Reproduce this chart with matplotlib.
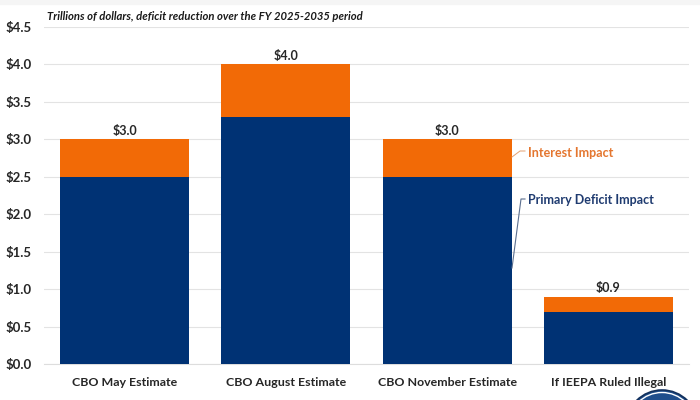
import matplotlib
matplotlib.use("Agg")
import matplotlib.pyplot as plt
from matplotlib.patches import Circle, Rectangle

plt.rcParams['font.family'] = ['Lato', 'Open Sans', 'DejaVu Sans']

categories = ["CBO May Estimate", "CBO August Estimate", "CBO November Estimate", "If IEEPA Ruled Illegal"]
primary = [2.5, 3.3, 2.5, 0.7]
interest = [0.5, 0.7, 0.5, 0.2]
totals = ["$3.0", "$4.0", "$3.0", "$0.9"]
yticks = [0, 0.5, 1, 1.5, 2, 2.5, 3, 3.5, 4, 4.5]
ytick_labels = ["$0.0", "$0.5", "$1.0", "$1.5", "$2.0", "$2.5", "$3.0", "$3.5", "$4.0", "$4.5"]
title = "Trillions of dollars, deficit reduction over the FY 2025-2035 period"

NAVY = "#003274"
ORANGE = "#F26A06"
TEXT = "#262626"

W, H = 700, 400
fig = plt.figure(figsize=(7, 4), dpi=100, facecolor="white")
ax = fig.add_axes([44 / W, 1 - 364 / H, (689 - 44) / W, (364 - 27) / H])

x = range(len(categories))
ax.bar(x, primary, width=0.8, color=NAVY, zorder=3)
ax.bar(x, interest, width=0.8, bottom=primary, color=ORANGE, zorder=3)
for i, label in enumerate(totals):
    ax.annotate(label, (i, primary[i] + interest[i]), xytext=(0, 2), textcoords="offset points",
                ha="center", va="bottom", fontsize=9, fontweight="bold", color=TEXT)

ax.set_xlim(-0.5, 3.5)
ax.set_ylim(0, 4.5)
ax.set_yticks(yticks, ytick_labels, fontsize=9.5, fontweight="bold", color=TEXT)
ax.set_xticks(list(x), categories, fontsize=8.9, fontweight="bold", color=TEXT)
ax.tick_params(axis="both", length=0)
ax.tick_params(axis="x", pad=9)
ax.tick_params(axis="y", pad=9)
ax.grid(axis="y", color="#E3E3E3", linewidth=0.8, zorder=0)
ax.set_axisbelow(True)
for s in ax.spines.values():
    s.set_visible(False)
ax.spines["bottom"].set_visible(True)
ax.spines["bottom"].set_color("#DDDDDD")

fig.text(47 / W, 1 - 17 / H, title, fontsize=8.1, fontweight="bold", fontstyle="italic",
         color="#1A1A1A", ha="left", va="center")

# Series labels with leader lines, in figure coordinates
fig.text(528 / W, 1 - 153 / H, "Interest Impact", fontsize=9, fontweight="bold",
         color="#E4762F", ha="left", va="center")
fig.text(528 / W, 1 - 200 / H, "Primary Deficit Impact", fontsize=9, fontweight="bold",
         color="#1F3B70", ha="left", va="center")
fig.add_artist(plt.Line2D([512 / W, 520 / W, 525 / W], [1 - 157 / H, 1 - 151 / H, 1 - 151 / H],
                          color="#E4A070", linewidth=0.7))
fig.add_artist(plt.Line2D([512 / W, 521 / W, 525 / W], [1 - 268 / H, 1 - 199 / H, 1 - 199 / H],
                          color="#5B6F8F", linewidth=0.8))

# Top band and the clipped logo at the bottom edge
fig.add_artist(Rectangle((0, 1 - 4 / H), 1, 4 / H, transform=fig.transFigure, color="#F5F5F5", zorder=0))
logo = Circle((662, -26), 36, transform=None, facecolor="#1F4E8C", edgecolor="#12305C", linewidth=1.2, zorder=5)
ring = Circle((662, -26), 33.5, transform=None, facecolor="none", edgecolor="white", linewidth=1.0, zorder=6)
fig.add_artist(logo)
fig.add_artist(ring)

fig.savefig("out.png", dpi=100)
